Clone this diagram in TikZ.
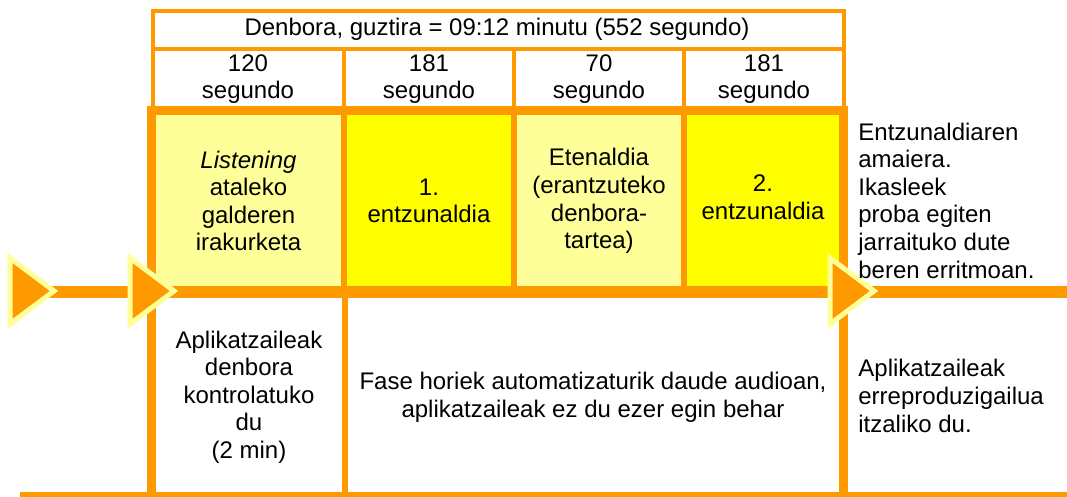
\documentclass[tikz,border=0pt]{standalone}
\usepackage{fontspec}
\setmainfont{Liberation Sans}
\definecolor{lineorange}{RGB}{255,153,0}
\definecolor{paleyellow}{RGB}{255,255,153}
\definecolor{fullyellow}{RGB}{255,255,0}

\begin{document}
\begin{tikzpicture}[x=0.5pt,y=-0.5pt,
    txt/.style={font=\fontsize{12}{13.8}\selectfont, align=center, inner sep=0pt},
    ltxt/.style={txt, align=left, anchor=west},
    headline/.style={draw=lineorange, line width=2pt},
    frameline/.style={draw=lineorange, line width=4.5pt, line join=miter},
    divline/.style={draw=lineorange, line width=3pt},
    tri/.style={fill=lineorange, draw=paleyellow, line width=2.5pt, line join=miter}]
    \useasboundingbox (0,0) rectangle (1067,497);

    % --- Cell fills ---
    \fill[white] (0,0) rectangle (1067,497);
    \fill[paleyellow] (151,110) rectangle (344,292);
    \fill[fullyellow] (344,110) rectangle (514,292);
    \fill[paleyellow] (514,110) rectangle (684,292);
    \fill[fullyellow] (684,110) rectangle (844,292);

    % --- Header: total time and seconds ---
    \draw[headline] (152.5,106) -- (152.5,11) -- (844,11) -- (844,106);
    \draw[headline] (152.5,49) -- (844,49);
    \foreach \x in {344,514,684}
        \draw[headline] (\x,49) -- (\x,106);

    % --- Thick frame ---
    \draw[frameline] (151.5,497) -- (151.5,110.5) -- (843.5,110.5) -- (843.5,497);
    \foreach \x in {344,514,684}
        \draw[divline] (\x,110) -- (\x,292);
    \draw[divline] (344.5,292) -- (344.5,495);
    \draw[lineorange, line width=3pt] (20,495) -- (1067,495);

    % --- Time line with arrows ---
    \draw[lineorange, line width=6pt] (30,292) -- (1067,292);
    \foreach \dx in {0,120,820}
        \filldraw[tri] (10+\dx,258) -- (54+\dx,291) -- (10+\dx,324) -- cycle;

    % --- Header texts ---
    \node[txt] (title) at (497,29) {Denbora, guztira = 09:12 minutu (552 segundo)};
    \node[txt] (sec1) at (248,79) {120\\segundo};
    \node[txt] (sec2) at (429,79) {181\\segundo};
    \node[txt] (sec3) at (599,79) {70\\segundo};
    \node[txt] (sec4) at (764,79) {181\\segundo};

    % --- Phases ---
    \node[txt] (part1) at (248.5,201) {\textit{Listening}\\ataleko\\galderen\\irakurketa};
    \node[txt] (part2) at (429,201) {1.\\entzunaldia};
    \node[txt] (part3) at (599,201) {Etenaldia\\(erantzuteko\\denbora-\\tartea)};
    \node[txt] (part4) at (763,197) {2.\\entzunaldia};
    \node[ltxt] (endnote) at (858,200.5) {Entzunaldiaren\\amaiera.\\Ikasleek\\proba egiten\\jarraituko dute\\beren erritmoan.};

    % --- What the examiner does ---
    \node[txt] (ctrl) at (249,397) {Aplikatzaileak\\denbora\\kontrolatuko\\du\\(2 min)};
    \node[txt] (auto) at (593,397) {Fase horiek automatizaturik daude audioan,\\aplikatzaileak ez du ezer egin behar};
    \node[ltxt] (offnote) at (858,396) {Aplikatzaileak\\erreproduzigailua\\itzaliko du.};
\end{tikzpicture}
\end{document}
